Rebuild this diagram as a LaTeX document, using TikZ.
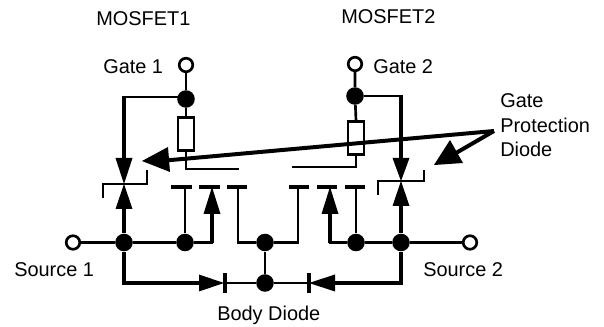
\documentclass[tikz,border=0pt]{standalone}
\usepackage{fontspec}
\setmainfont{Liberation Sans}
\newcommand{\px}{0.0264583cm}
\tikzset{
 x=\px,y=-\px,
 wire/.style={draw=black,line width=2pt,line join=miter},
 thick wire/.style={draw=black,line width=2.7pt},
 dot/.style={circle,fill=black,draw=none,minimum size=13.2pt,inner sep=0pt},
 port/.style={circle,fill=white,draw=black,line width=2pt,minimum size=10.2pt,inner sep=0pt},
 res/.style={rectangle,draw=black,line width=1.8pt,fill=none,minimum width=12pt,minimum height=25pt,inner sep=0pt},
 lab/.style={font=\fontsize{15pt}{18pt}\selectfont,text=black,inner sep=0pt,anchor=base west},
 head/.style={fill=black,draw=none},
 bar/.style={draw=black,line width=3.6pt},
 dbar/.style={draw=black,line width=3.2pt},
 parrow/.style={draw=black,line width=3pt},
}
\begin{document}
\begin{tikzpicture}
\useasboundingbox (0,0) rectangle (604,327);
\coordinate (c1) at (124,97);
\coordinate (c2) at (401,96);
\coordinate (t1) at (124,184);
\coordinate (t2) at (401,181);
\coordinate (a1) at (239,169);
\coordinate (a2) at (292,167);
\coordinate (pz) at (494,131);
% nodes
\node[port] (g1) at (186,65) {};
\node[dot] (d1) at (186,99) {};
\node[res] (r1) at (186,134) {};
\node[port] (g2) at (355,64) {};
\node[dot] (d2) at (355,96) {};
\node[res] (r2) at (356,138) {};
\node[port] (s1) at (73,242.5) {};
\node[port] (s2) at (470,242.5) {};
\node[dot] (j1) at (124,242.5) {};
\node[dot] (j2) at (185,242.5) {};
\node[dot] (jc) at (265,242.5) {};
\node[dot] (jb) at (265,283) {};
\node[dot] (j3) at (356,242.5) {};
\node[dot] (j4) at (401,242.5) {};
% wires
\draw[wire] (g1) -- (d1) -- (r1.north);
\draw[wire] (g2) -- (d2) -- (r2.north);
\draw[wire] (r1.south) -- (186,169) -- (a1);
\draw[wire] (r2.south) -- (356,167) -- (a2);
\draw[wire] (d1 |- c1) -- (c1);
\draw[wire] (d2) -- (c2);
\draw[thick wire] (124,96) -- (124,160);
\draw[thick wire] (401,95) -- (401,160);
\draw[thick wire] (j1) -- (124,205);
\draw[thick wire] (j4) -- (401,202);
\draw[head] (t1) -- (115.5,158) -- (132.5,158) -- cycle;
\draw[head] (t1) -- (115.5,209) -- (132.5,209) -- cycle;
\draw[head] (t2) -- (392.5,158) -- (409.5,158) -- cycle;
\draw[head] (t2) -- (392.5,206) -- (409.5,206) -- cycle;
\draw[wire] (103,198) -- (103,184) -- (147,184) -- (147,170);
\draw[wire] (378,195) -- (378,181) -- (424,181) -- (424,170);
\draw[wire] (s1) -- (j1) -- (j2) -- (213,242.5);
\draw[wire] (s2) -- (j4) -- (j3) -- (329,242.5);
% channel bars
\draw[bar] (171,187) -- (192,187);
\draw[bar] (199,187) -- (220,187);
\draw[bar] (227,187) -- (247,187);
\draw[bar] (289,187) -- (309,187);
\draw[bar] (317,187) -- (337,187);
\draw[bar] (345,187) -- (365,187);
\draw[wire] (j2) -- (185,187);
\draw[wire] (j3) -- (356,187);
\draw[thick wire] (212,243.5) -- (212,212);
\draw[thick wire] (330,243.5) -- (330,212);
\draw[head] (212,187) -- (203.5,214) -- (220.5,214) -- cycle;
\draw[head] (330,187) -- (321.5,214) -- (338.5,214) -- cycle;
\draw[wire] (238,187) -- (238,242.5) -- (jc);
\draw[wire] (jc) -- (298,242.5) -- (298,187);
\draw[wire] (jc) -- (jb);
% body diodes
\draw[thick wire] (j1) -- (124,283) -- (200,283);
\draw[thick wire] (j4) -- (401,283) -- (335,283);
\draw[head] (224,283) -- (199,274.5) -- (199,291.5) -- cycle;
\draw[head] (309,283) -- (335,274.5) -- (335,291.5) -- cycle;
\draw[dbar] (225,273) -- (225,293);
\draw[dbar] (309,273) -- (309,293);
\draw[wire] (225,283) -- (jb) -- (309,283);
% protection arrows
\draw[parrow] (pz) -- (160,161);
\draw[head] (142,161) -- (168,147) -- (170,172) -- cycle;
\draw[parrow] (pz) -- (456,153);
\draw[head] (434,165) -- (450,140) -- (463,163) -- cycle;
% labels
\node[lab] at (96,26) {MOSFET1};
\node[lab] at (341,24) {MOSFET2};
\node[lab] at (103,74) {Gate 1};
\node[lab] at (373,74) {Gate 2};
\node[lab] at (14,277) {Source 1};
\node[lab] at (423,277) {Source 2};
\node[lab] at (217,321) {Body Diode};
\node[lab] at (500,108) {Gate};
\node[lab] at (500,133) {Protection};
\node[lab] at (500,157) {Diode};
\end{tikzpicture}
\end{document}
